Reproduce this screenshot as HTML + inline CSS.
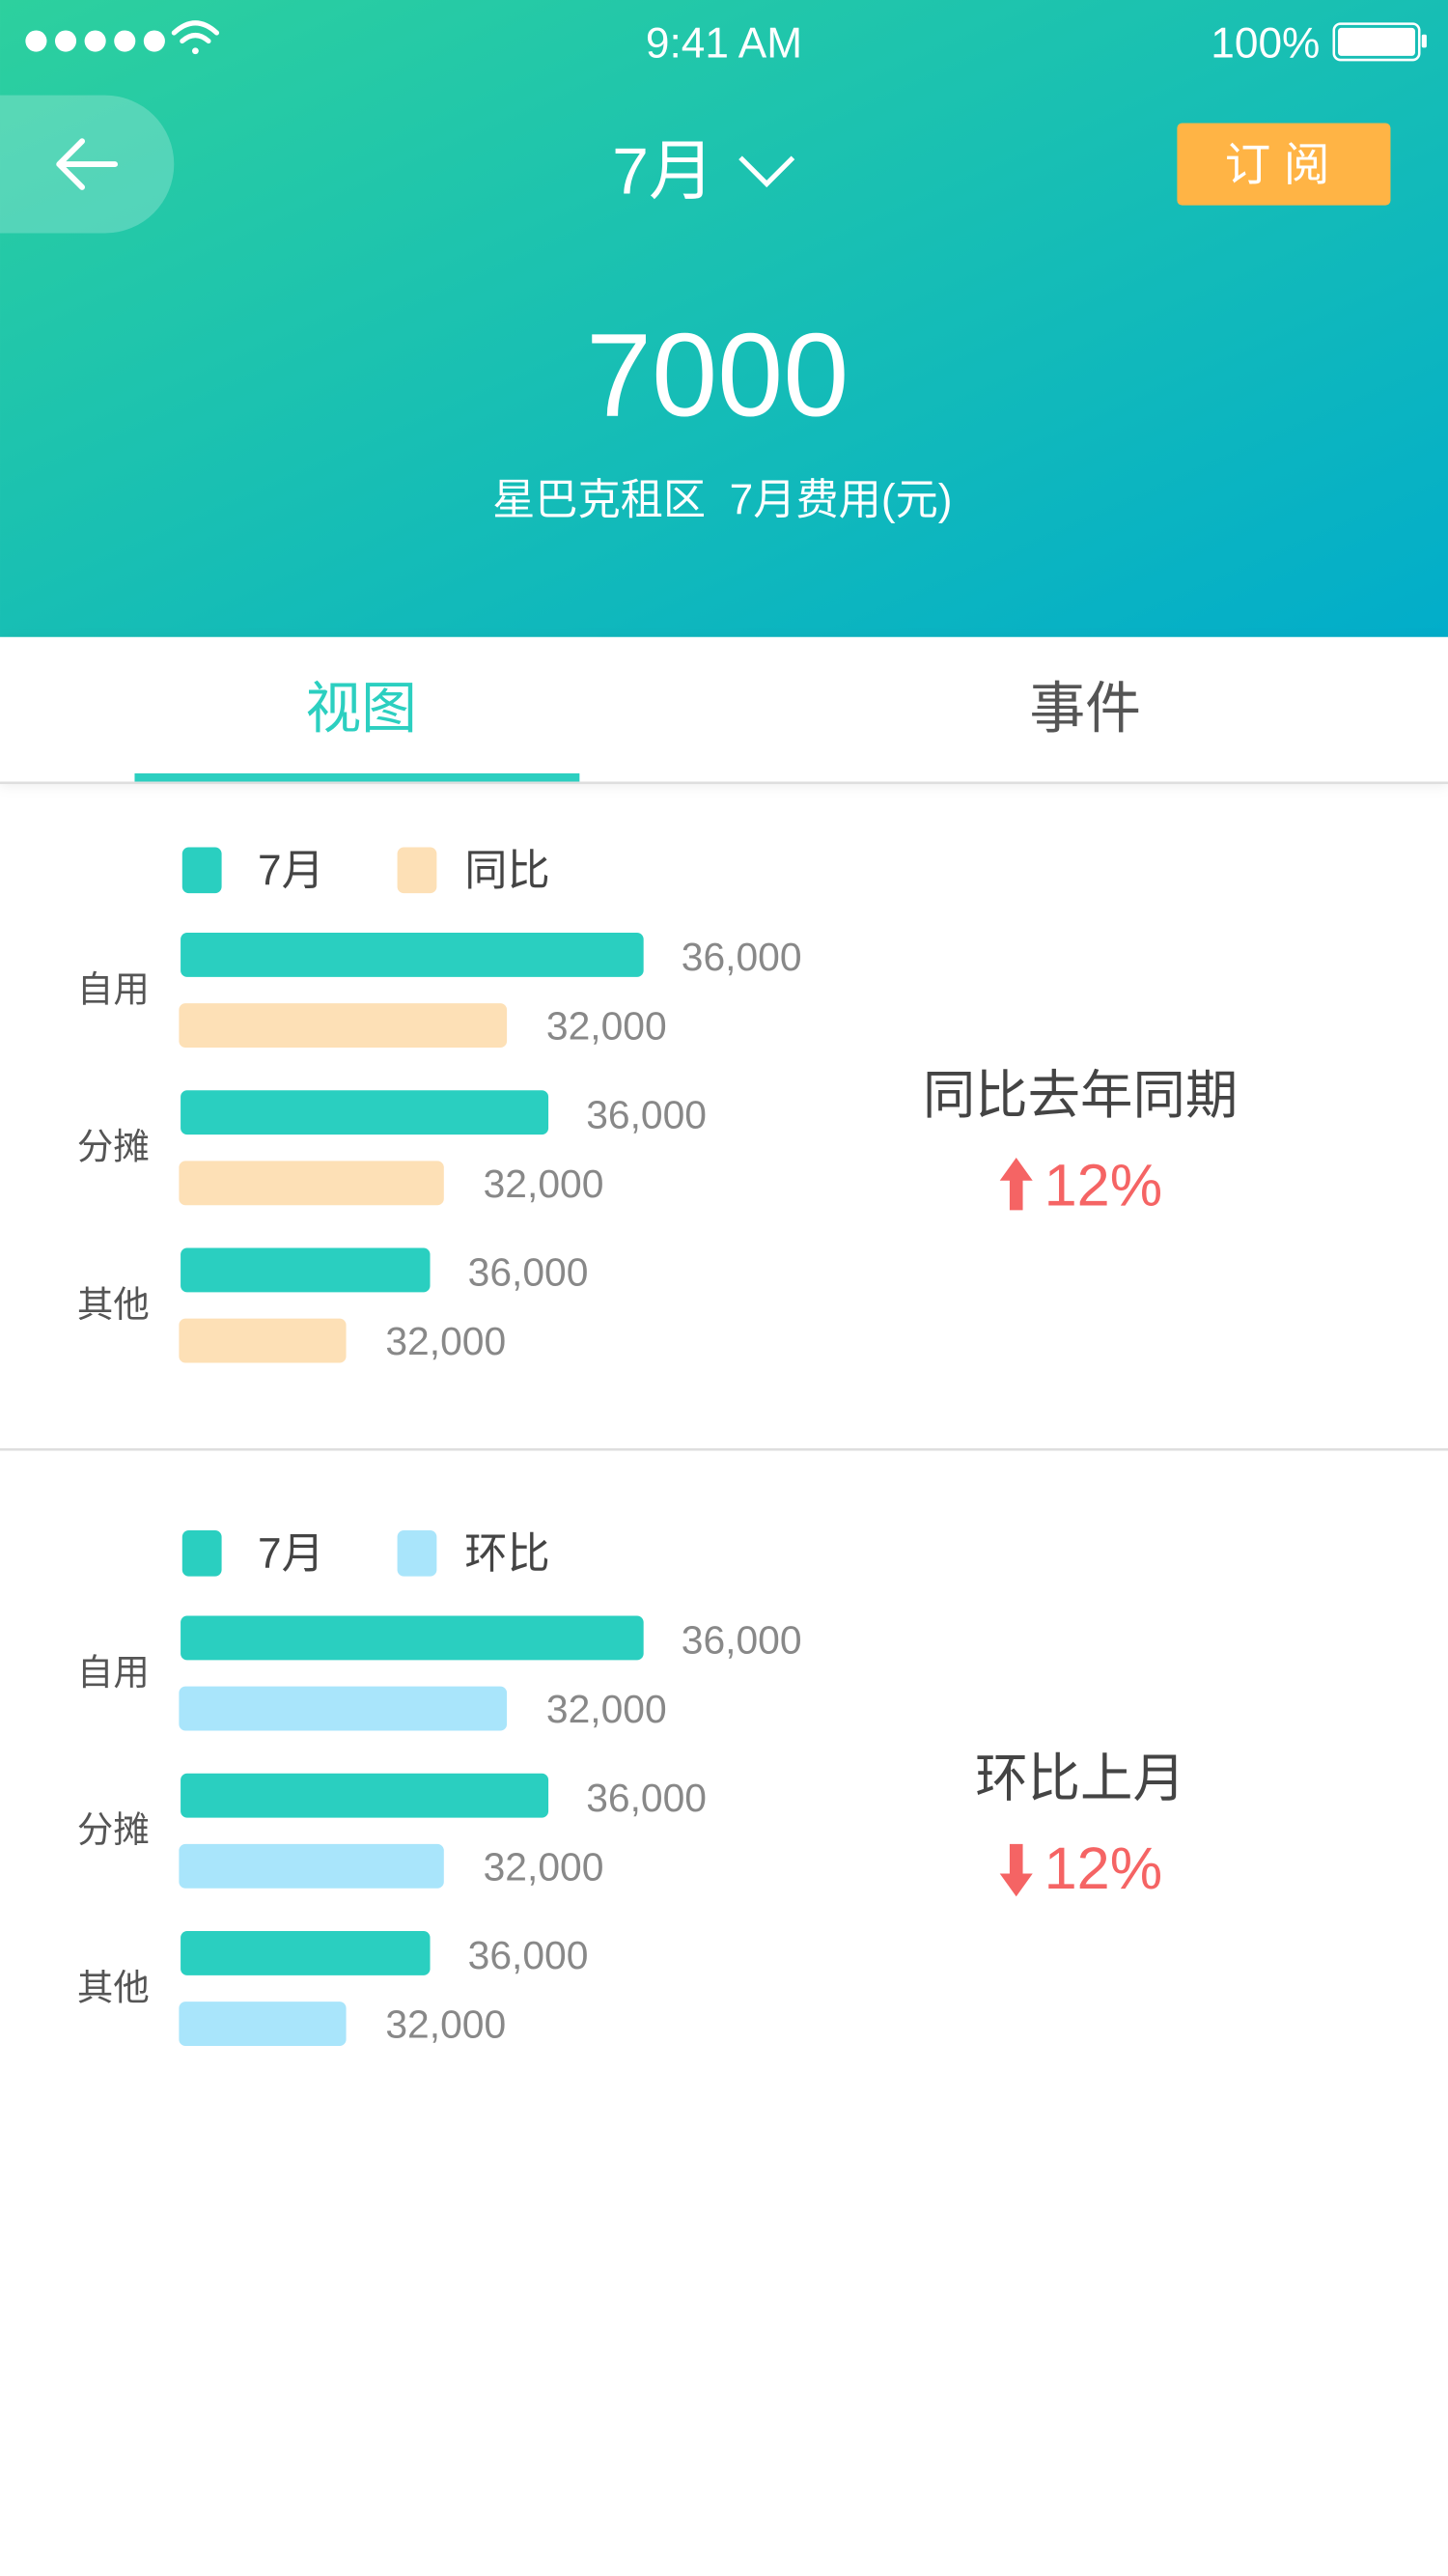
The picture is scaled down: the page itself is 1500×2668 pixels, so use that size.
<!DOCTYPE html>
<html><head><meta charset="utf-8">
<style>
html,body{margin:0;padding:0;background:#fff;}
svg{display:block;font-family:"Liberation Sans","Noto Sans CJK SC",sans-serif;}
</style></head>
<body>
<svg id="page" width="1500" height="2668" viewBox="0 0 882 1568.8" xmlns="http://www.w3.org/2000/svg">
<defs>
<linearGradient id="hg" x1="0" y1="0" x2="1" y2="1">
<stop offset="0" stop-color="#2dd09e"/><stop offset="1" stop-color="#02adca"/>
</linearGradient>
<filter id="sh" x="-10%" y="-50%" width="120%" height="200%"><feDropShadow dx="0" dy="2" stdDeviation="4" flood-color="#000" flood-opacity="0.08"/></filter>
</defs>
<g>
<rect x="0" y="0" width="882" height="388" fill="url(#hg)"/>
<g fill="#fff">
<circle cx="22" cy="25" r="6.5"/><circle cx="40" cy="25" r="6.5"/><circle cx="58" cy="25" r="6.5"/><circle cx="76" cy="25" r="6.5"/><circle cx="94" cy="25" r="6.5"/>
</g>
<g fill="none" stroke="#fff" stroke-width="3" stroke-linecap="round">
<path d="M106 20 Q119 8 132 20"/><path d="M111 25 Q119 18 127 25"/><circle cx="119" cy="31" r="2" fill="#fff" stroke="none"/>
</g>
<text x="441" y="35" font-size="26" fill="#fff" text-anchor="middle">9:41 AM</text>
<text x="804" y="35" font-size="26" fill="#fff" text-anchor="end">100%</text>
<g>
<rect x="812.5" y="14.5" width="52" height="22" rx="4" fill="none" stroke="#fff" stroke-width="1.5"/>
<rect x="815" y="17" width="47" height="17" rx="2" fill="#fff"/>
<rect x="866" y="21" width="3" height="8" rx="1" fill="#fff"/>
</g>
<g>
<path d="M0 58 H64 A42 42 0 0 1 106 100 A42 42 0 0 1 64 142 H0 Z" fill="#fff" fill-opacity="0.22"/>
<path d="M36 100 H70 M36 100 L50 86 M36 100 L50 114" stroke="#fff" stroke-width="3.5" fill="none" stroke-linecap="round"/>
</g>
<g>
<text x="404" y="118" font-size="40" fill="#fff" text-anchor="middle">7月</text>
<path d="M451 96 L467 112 L483 96" stroke="#fff" stroke-width="3" fill="none"/>
</g>
<g>
<rect x="717" y="75" width="130" height="50" rx="3" fill="#ffb445"/>
<text x="782" y="110" font-size="28" fill="#fff" text-anchor="middle" letter-spacing="8">订阅</text>
</g>
<text x="437" y="253" font-size="72" fill="#fff" text-anchor="middle">7000</text>
<text x="440" y="313" font-size="26" fill="#fff" text-anchor="middle" xml:space="preserve">星巴克租区  7月费用(元)</text>
</g>
<g>
<rect x="0" y="388" width="882" height="88" fill="#fff" filter="url(#sh)"/>
<text x="220" y="443" font-size="34" fill="#2ccfc0" text-anchor="middle">视图</text>
<rect x="82" y="471" width="271" height="5" fill="#2ccfc0"/>
<text x="661" y="443" font-size="34" fill="#555" text-anchor="middle">事件</text>
<rect x="0" y="476" width="882" height="1.5" fill="#dedede"/>
</g>
<g id="chart1"></g>
<rect x="0" y="882" width="882" height="1.5" fill="#dedede"/>
<g id="chart2"></g>
</svg>
<script>
const categories = ["自用", "分摊", "其他"];
const currentValues = [36000, 28600, 19400];
const yoyValues = [25500, 20600, 13000];
const momValues = [25500, 20600, 13000];
const currentLabels = ["36,000", "36,000", "36,000"];
const compareLabels = ["32,000", "32,000", "32,000"];
const NS = "http://www.w3.org/2000/svg";
const x0 = 110, pxPerUnit = 282 / 36000;
const xScale = v => v * pxPerUnit;
function mk(tag, attrs, parent, text) {
  const e = document.createElementNS(NS, tag);
  for (const k in attrs) e.setAttribute(k, attrs[k]);
  if (text !== undefined) e.textContent = text;
  parent.appendChild(e);
  return e;
}
function drawChart(g, top, cmpValues, cmpColor, cmpName, title, up) {
  const lg1 = mk("g", {}, g);
  
  
  mk("rect", {x: 111, y: top + 39, width: 24, height: 28, rx: 4, fill: "#2acfc0"}, lg1);
  mk("text", {x: 157, y: top + 62, "font-size": 26, fill: "#444"}, lg1, "7月");
  const lg2 = mk("g", {}, g);
  
  
  mk("rect", {x: 242, y: top + 39, width: 24, height: 28, rx: 4, fill: cmpColor}, lg2);
  mk("text", {x: 283, y: top + 62, "font-size": 26, fill: "#444"}, lg2, cmpName);
  categories.forEach((c, i) => {
    const by = top + 91 + i * 96;
    const cl = mk("text", {x: 47, y: by + 42, "font-size": 22, fill: "#555"}, g, c);
    
    
    const w1 = xScale(currentValues[i]);
    const b1 = mk("rect", {x: x0, y: by, width: w1, height: 27, rx: 4, fill: "#2acfc0"}, g);
    
    
    const t1 = mk("text", {x: x0 + w1 + 23, y: by + 23, "font-size": 24, fill: "#888"}, g, currentLabels[i]);
    
    
    const w2 = xScale(cmpValues[i]);
    const b2 = mk("rect", {x: x0 - 1, y: by + 43, width: w2, height: 27, rx: 4, fill: cmpColor}, g);
    
    
    const t2 = mk("text", {x: x0 + w2 + 23, y: by + 65, "font-size": 24, fill: "#888"}, g, compareLabels[i]);
    
    
  });
  const tt = mk("text", {x: 658, y: top + 201, "font-size": 32, fill: "#444", "text-anchor": "middle"}, g, title);
  
  
  const ar = mk("path", {fill: "#f56464", d: up
    ? `M619 ${top+228} L609 ${top+242} H615 V${top+260} H623 V${top+242} H629 Z`
    : `M619 ${top+262} L609 ${top+248} H615 V${top+230} H623 V${top+248} H629 Z`}, g);
  
  
  const pt = mk("text", {x: 636, y: top + 257, "font-size": 36, fill: "#f56464"}, g, "12%");
  
  
}
drawChart(document.getElementById("chart1"), 477, yoyValues, "#fde0b6", "同比", "同比去年同期", true);
drawChart(document.getElementById("chart2"), 893, momValues, "#a9e5fb", "环比", "环比上月", false);
</script>
</body></html>
